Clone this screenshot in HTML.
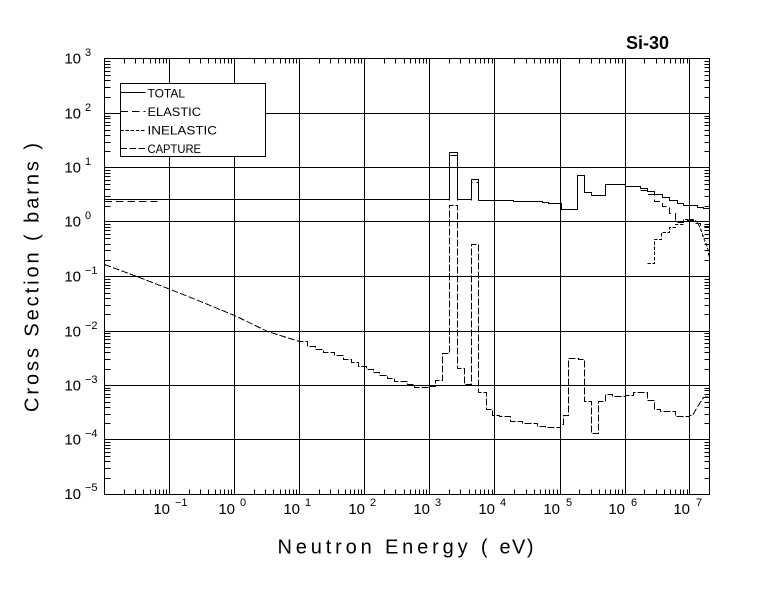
<!DOCTYPE html>
<html>
<head>
<meta charset="utf-8">
<style>
html,body{margin:0;padding:0;background:#fff;}
svg{display:block;}
text{font-family:"Liberation Sans",Arial,sans-serif;fill:#000;}
</style>
</head>
<body>
<svg width="779" height="591" viewBox="0 0 779 591" xmlns="http://www.w3.org/2000/svg">
<rect x="0" y="0" width="779" height="591" fill="#fff"/>
<g transform="translate(0.5,0.5)" stroke="#000" stroke-width="1" fill="none" shape-rendering="crispEdges">
  <!-- grid -->
  <path d="M104 113H709M104 167H709M104 221H709M104 276H709M104 331H709M104 385H709M104 439H709"/>
  <path d="M169 58V494M234 58V494M299 58V494M364 58V494M429 58V494M494 58V494M560 58V494M625 58V494M689 58V494"/>
  <!-- frame -->
  <path d="M104 58H709V494H104Z"/>
  <!-- left/right ticks -->
  <path d="M104 478h6M104 468h6M104 461h6M104 456h6M104 452h6M104 448h6M104 445h6M104 442h6
M104 423h6M104 414h6M104 407h6M104 402h6M104 397h6M104 394h6M104 390h6M104 388h6
M104 369h6M104 359h6M104 352h6M104 347h6M104 343h6M104 339h6M104 336h6M104 333h6
M104 314h6M104 305h6M104 298h6M104 293h6M104 288h6M104 285h6M104 282h6M104 279h6
M104 260h6M104 250h6M104 244h6M104 238h6M104 234h6M104 230h6M104 227h6M104 224h6
M104 206h6M104 196h6M104 189h6M104 184h6M104 180h6M104 176h6M104 173h6M104 170h6
M104 151h6M104 142h6M104 135h6M104 130h6M104 125h6M104 122h6M104 118h6M104 116h6
M104 97h6M104 87h6M104 80h6M104 75h6M104 71h6M104 67h6M104 64h6M104 61h6"/>
  <path d="M709 478h-5M709 468h-5M709 461h-5M709 456h-5M709 452h-5M709 448h-5M709 445h-5M709 442h-5
M709 423h-5M709 414h-5M709 407h-5M709 402h-5M709 397h-5M709 394h-5M709 390h-5M709 388h-5
M709 369h-5M709 359h-5M709 352h-5M709 347h-5M709 343h-5M709 339h-5M709 336h-5M709 333h-5
M709 314h-5M709 305h-5M709 298h-5M709 293h-5M709 288h-5M709 285h-5M709 282h-5M709 279h-5
M709 260h-5M709 250h-5M709 244h-5M709 238h-5M709 234h-5M709 230h-5M709 227h-5M709 224h-5
M709 206h-5M709 196h-5M709 189h-5M709 184h-5M709 180h-5M709 176h-5M709 173h-5M709 170h-5
M709 151h-5M709 142h-5M709 135h-5M709 130h-5M709 125h-5M709 122h-5M709 118h-5M709 116h-5
M709 97h-5M709 87h-5M709 80h-5M709 75h-5M709 71h-5M709 67h-5M709 64h-5M709 61h-5"/>
  <!-- top/bottom ticks -->
  <path d="M124 58v5M135 58v5M143 58v5M150 58v5M155 58v5M159 58v5M163 58v5M166 58v5
M189 58v5M200 58v5M208 58v5M215 58v5M220 58v5M224 58v5M228 58v5M231 58v5
M254 58v5M265 58v5M273 58v5M280 58v5M285 58v5M289 58v5M293 58v5M296 58v5
M319 58v5M330 58v5M338 58v5M345 58v5M350 58v5M354 58v5M358 58v5M361 58v5
M384 58v5M395 58v5M404 58v5M410 58v5M415 58v5M419 58v5M423 58v5M426 58v5
M449 58v5M460 58v5M469 58v5M475 58v5M480 58v5M484 58v5M488 58v5M492 58v5
M514 58v5M526 58v5M534 58v5M540 58v5M545 58v5M549 58v5M553 58v5M557 58v5
M579 58v5M591 58v5M599 58v5M605 58v5M610 58v5M615 58v5M618 58v5M622 58v5
M644 58v5M656 58v5M664 58v5M670 58v5M675 58v5M680 58v5M683 58v5M687 58v5"/>
  <path d="M124 494v-5M135 494v-5M143 494v-5M150 494v-5M155 494v-5M159 494v-5M163 494v-5M166 494v-5
M189 494v-5M200 494v-5M208 494v-5M215 494v-5M220 494v-5M224 494v-5M228 494v-5M231 494v-5
M254 494v-5M265 494v-5M273 494v-5M280 494v-5M285 494v-5M289 494v-5M293 494v-5M296 494v-5
M319 494v-5M330 494v-5M338 494v-5M345 494v-5M350 494v-5M354 494v-5M358 494v-5M361 494v-5
M384 494v-5M395 494v-5M404 494v-5M410 494v-5M415 494v-5M419 494v-5M423 494v-5M426 494v-5
M449 494v-5M460 494v-5M469 494v-5M475 494v-5M480 494v-5M484 494v-5M488 494v-5M492 494v-5
M514 494v-5M526 494v-5M534 494v-5M540 494v-5M545 494v-5M549 494v-5M553 494v-5M557 494v-5
M579 494v-5M591 494v-5M599 494v-5M605 494v-5M610 494v-5M615 494v-5M618 494v-5M622 494v-5
M644 494v-5M656 494v-5M664 494v-5M670 494v-5M675 494v-5M680 494v-5M683 494v-5M687 494v-5"/>
  <!-- legend box -->
  <rect x="120" y="83" width="145" height="73" fill="#fff"/>
  <path d="M120 92H145"/>
  <path d="M120 111H145" stroke-dasharray="7.5,4"/>
  <path d="M120 130H145" stroke-dasharray="3.5,1.6"/>
  <path d="M120 148H145" stroke-dasharray="6.7,2.3"/>
</g>

<!-- data -->
<g transform="translate(0.5,0.5)" stroke="#000" stroke-width="1" fill="none" shape-rendering="crispEdges">
  <!-- TOTAL -->
  <path d="M104 199H449V152H457V199H471V179H478V200H513V201H542V202H548V203H561V209H577V175H584V192H591V195H605V184H625V186H640V188H647V191H654V194H662V197H669V200H677V203H683V205H697V207H703V208H709"/>
  <!-- ELASTIC -->
  <path stroke-dasharray="7.5,4" d="M104 201H157"/>
  <path stroke-dasharray="7.5,4" d="M449 200V155H457V200"/>
  <path stroke-dasharray="7.5,4" d="M471 200V182H478V200"/>
  <path stroke-dasharray="7.5,4" d="M640 190H647V194H654V201H662V206H669V213H675V222H683V220H693V223H700V226H709"/>
  <!-- INELASTIC -->
  <path stroke-dasharray="3.5,1.6" d="M647 263H654V239H661V232H669V227H675V224H683V219H693L697 222L700 228L703 237L707 247L709 259"/>
  <!-- CAPTURE -->
  <path stroke-dasharray="6.7,2.3" d="M104 264L131 274L170 289L200 301L234 315L267 331L299 341H307V346H315V349H323V352H334V355H343V359H351V362H358V366H366V369H373V372H379V375H387V378H394V381H400V381H407V384H414V387H428V386H435V380H442V353H449V205H457V368H464V384H471V244H478V392H486V409H492V415H499V416H510V421H522V423H537V426H545V427H560V424H563V415H568V358H578V359H584V401H591V433H598V401H605V394H612V396H625V395H633V392H647V400H654V409H660V411H675V416H689V415H692L696 408L703 397L709 396"/>
</g>

<!-- legend text -->
<text x="147.5" y="97.5" font-size="12" textLength="37.5" lengthAdjust="spacingAndGlyphs">TOTAL</text>
<text x="147.5" y="116" font-size="12" textLength="53.5" lengthAdjust="spacingAndGlyphs">ELASTIC</text>
<text x="147.5" y="134.5" font-size="12" textLength="69.5" lengthAdjust="spacingAndGlyphs">INELASTIC</text>
<text x="147.5" y="153" font-size="12" textLength="53.5" lengthAdjust="spacingAndGlyphs">CAPTURE</text>

<!-- title -->
<text x="626" y="49" font-size="18" font-weight="bold">Si-30</text>

<!-- y tick labels -->
<g font-size="15" text-anchor="end">
  <text x="81" y="63.5">10</text>
  <text x="81" y="118.5">10</text>
  <text x="81" y="172.5">10</text>
  <text x="81" y="226.5">10</text>
  <text x="81" y="281.5">10</text>
  <text x="81" y="336.5">10</text>
  <text x="81" y="390.5">10</text>
  <text x="81" y="444.5">10</text>
  <text x="81" y="499">10</text>
</g>
<g font-size="11">
  <text x="85" y="56">3</text>
  <text x="85" y="111">2</text>
  <text x="85" y="165">1</text>
  <text x="85" y="219">0</text>
  <text x="85" y="274">−1</text>
  <text x="85" y="329">−2</text>
  <text x="85" y="383">−3</text>
  <text x="85" y="437">−4</text>
  <text x="85" y="491">−5</text>
</g>

<!-- x tick labels -->
<g font-size="15" text-anchor="end">
  <text x="170" y="514">10</text>
  <text x="235" y="514">10</text>
  <text x="300" y="514">10</text>
  <text x="365" y="514">10</text>
  <text x="430" y="514">10</text>
  <text x="495" y="514">10</text>
  <text x="560" y="514">10</text>
  <text x="625" y="514">10</text>
  <text x="690" y="514">10</text>
</g>
<g font-size="11">
  <text x="175" y="506">−1</text>
  <text x="240" y="506">0</text>
  <text x="305" y="506">1</text>
  <text x="370" y="506">2</text>
  <text x="435" y="506">3</text>
  <text x="500" y="506">4</text>
  <text x="566" y="506">5</text>
  <text x="631" y="506">6</text>
  <text x="696" y="506">7</text>
</g>

<!-- axis titles -->
<text x="277.5" y="553.5" font-size="20" textLength="210" lengthAdjust="spacing">Neutron Energy (</text>
<text x="499.5" y="553.5" font-size="20" textLength="34" lengthAdjust="spacing">eV)</text>
<text transform="translate(38.5,412) rotate(-90)" x="0" y="0" font-size="20" textLength="269" lengthAdjust="spacing">Cross Section ( barns )</text>
</svg>
</body>
</html>
